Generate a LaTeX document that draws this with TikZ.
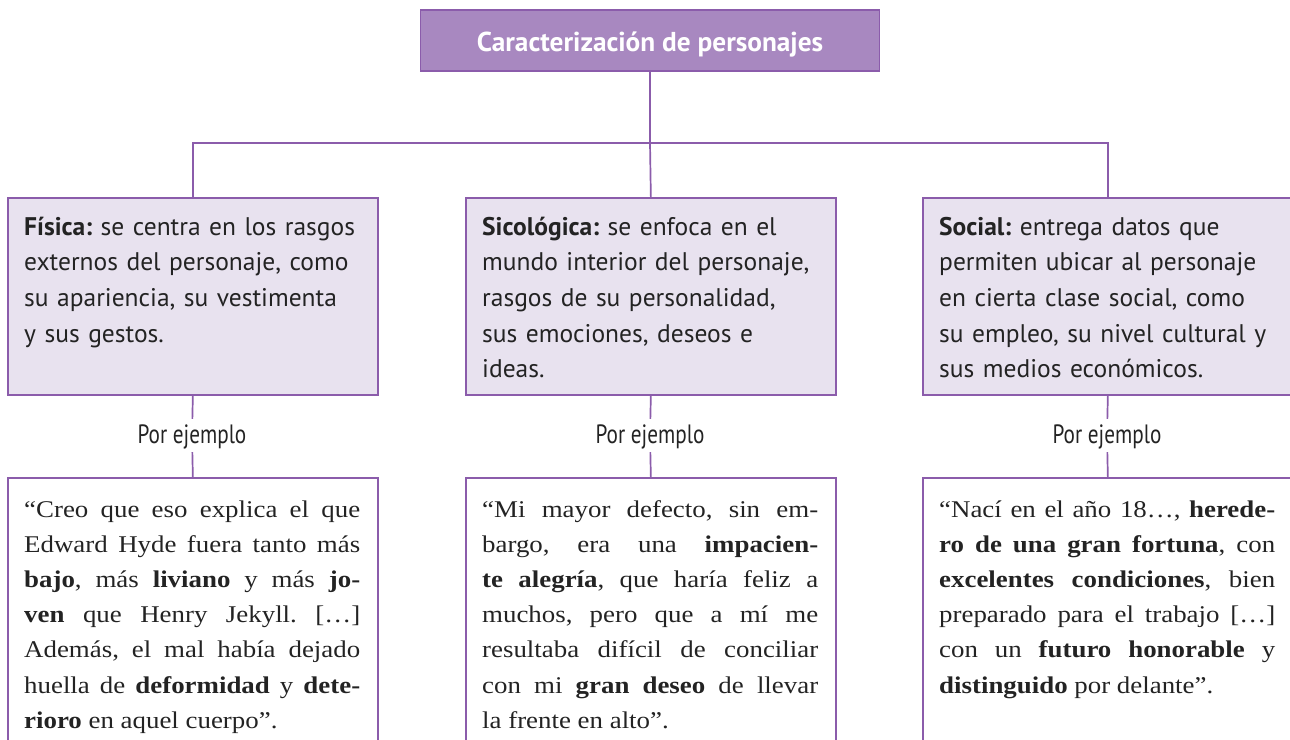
\documentclass[tikz,border=0pt]{standalone}
\usepackage{fontspec}
\setmainfont{Liberation Serif}
\newfontfamily\boxfont{PT Sans}
\newfontfamily\porfont{PT Sans}[FakeStretch=0.8]
\newfontfamily\quotefont{Liberation Serif}[FakeStretch=1.12]
\definecolor{lila}{HTML}{8B5CAB}
\definecolor{lilafill}{HTML}{A888C0}
\definecolor{lilalight}{HTML}{E8E2EF}
\definecolor{ink}{HTML}{232323}
\frenchspacing
\begin{document}
\begin{tikzpicture}[x=1pt,y=-1pt,
  conn/.style={draw=lila, line width=1.7pt},
  titlebox/.style={rectangle, fill=lilafill, draw=lila, line width=1.7pt,
    minimum width=459pt, minimum height=61pt, inner sep=0pt,
    text height=21pt, text depth=0pt, text=white,
    font=\boxfont\bfseries\fontsize{27.3}{32}\selectfont},
  catbox/.style={rectangle, fill=lilalight, draw=lila, line width=1.7pt,
    minimum width=370pt, minimum height=197pt, anchor=north west, inner sep=0pt},
  quotebox/.style={rectangle, draw=lila, line width=1.7pt,
    minimum width=370pt, minimum height=290pt, anchor=north west, inner sep=0pt},
  cattext/.style={anchor=base west, inner sep=0pt, text width=350pt, align=left,
    text=ink, font=\boxfont\fontsize{25.5}{35.7}\selectfont},
  quotetext/.style={anchor=base west, inner sep=0pt, text width=336pt, align=justify,
    text=ink, font=\quotefont\fontsize{24}{35.2}\selectfont},
  ejlabel/.style={anchor=base, text height=20pt, text depth=5pt,
    inner xsep=4pt, inner ysep=4pt, text=ink,
    font=\porfont\fontsize{26.5}{30}\selectfont}
]
\useasboundingbox (0,0) rectangle (1290,739);

% title
\node[titlebox] (title) at (650,40.5) {Caracterización de personajes};
\coordinate (bus) at (650,143);

% category boxes
\node[catbox] (fisica) at (7,197) {};
\node[catbox] (sico) at (465,197) {};
\node[catbox] (social) at (922,197) {};

\node[cattext] (tfisica) at (24,235) {\textbf{Física:} se centra en los rasgos\\ externos del personaje, como\\ su apariencia, su vestimenta\\ y sus gestos.};
\node[cattext] (tsico) at (482,235) {\textbf{Sicológica:} se enfoca en el\\ mundo interior del personaje,\\ rasgos de su personalidad,\\ sus emociones, deseos e\\ ideas.};
\node[cattext] (tsocial) at (939,235) {\textbf{Social:} entrega datos que\\ permiten ubicar al personaje\\ en cierta clase social, como\\ su empleo, su nivel cultural y\\ sus medios económicos.};

% labels
\node[ejlabel] (ej1) at (192,443) {Por ejemplo};
\node[ejlabel] (ej2) at (650,443) {Por ejemplo};
\node[ejlabel] (ej3) at (1107,443) {Por ejemplo};

% quote boxes
\node[quotebox] (q1) at (7,477) {};
\node[quotebox] (q2) at (465,477) {};
\node[quotebox] (q3) at (922,477) {};

\node[quotetext] (tq1) at (24,517) {\hyphenpenalty=10000\relax “Creo que eso explica el que\linebreak Edward Hyde fuera tanto más\linebreak \textbf{bajo}, más \textbf{liviano} y más \textbf{jo-}\linebreak \textbf{ven} que Henry Jekyll. […]\linebreak Además, el mal había dejado\linebreak huella de \textbf{deformidad} y \textbf{dete-}\linebreak \textbf{rioro} en aquel cuerpo”.};
\node[quotetext] (tq2) at (482,517) {\hyphenpenalty=10000\relax “Mi mayor defecto, sin em-\linebreak bargo, era una \textbf{impacien-}\linebreak \textbf{te alegría}, que haría feliz a\linebreak muchos, pero que a mí me\linebreak resultaba difícil de conciliar\linebreak con mi \textbf{gran deseo} de llevar\linebreak la frente en alto”.};
\node[quotetext] (tq3) at (939,517) {\hyphenpenalty=10000\relax “Nací en el año 18…, \textbf{herede-}\linebreak \textbf{ro de una gran fortuna}, con\linebreak \textbf{excelentes condiciones}, bien\linebreak preparado para el trabajo […]\linebreak con un \textbf{futuro honorable} y\linebreak \textbf{distinguido} por delante”.};

% connectors
\draw[conn] (title.south) -- (bus);
\draw[conn] (fisica.north) |- (bus) -| (social.north);
\draw[conn] (bus) -- (sico.north);
\draw[conn] (fisica.south) -- (ej1);
\draw[conn] (ej1) -- (q1.north);
\draw[conn] (sico.south) -- (ej2);
\draw[conn] (ej2) -- (q2.north);
\draw[conn] (social.south) -- (ej3);
\draw[conn] (ej3) -- (q3.north);
\end{tikzpicture}
\end{document}
